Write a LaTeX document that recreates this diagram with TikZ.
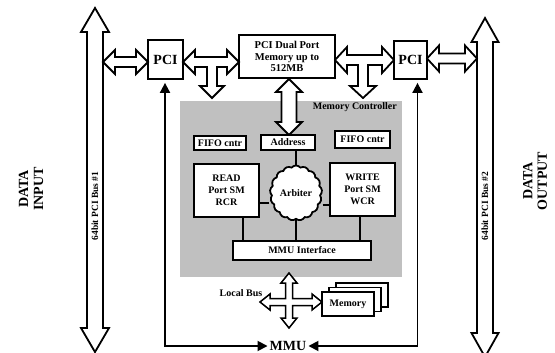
\documentclass[tikz,border=0pt]{standalone}
\usepackage{fontspec}
\setmainfont{Liberation Serif}
\usetikzlibrary{shapes.symbols,arrows.meta}

\definecolor{ctrlgray}{RGB}{192,192,192}

\tikzset{
  box/.style={draw, line width=1.8pt, fill=white, inner sep=0pt, align=center,
              font=\bfseries\fontsize{10}{12}\selectfont},
  blk/.style={draw, line width=1.8pt, fill=white, line join=miter},
  wire/.style={line width=1.8pt},
  link/.style={line width=1.8pt,
               {Triangle[length=10pt,width=10pt]}-{Triangle[length=10pt,width=10pt]}},
  lbl/.style={inner sep=0pt, font=\bfseries\fontsize{10}{12}\selectfont},
}

% vertical block arrow with heads at both ends: xc, ytop, ybot, shaft half, head half, head length
\newcommand\vdblarrow[6]{%
  \draw[blk] ({#1-#4},{#2+#6}) -- ({#1-#5},{#2+#6}) -- (#1,#2) -- ({#1+#5},{#2+#6})
    -- ({#1+#4},{#2+#6}) -- ({#1+#4},{#3-#6}) -- ({#1+#5},{#3-#6}) -- (#1,#3)
    -- ({#1-#5},{#3-#6}) -- ({#1-#4},{#3-#6}) -- cycle;}
% horizontal block arrow with heads at both ends: yc, xleft, xright, shaft half, head half, head length
\newcommand\hdblarrow[6]{%
  \draw[blk] ({#2+#6},{#1-#4}) -- ({#2+#6},{#1-#5}) -- (#2,#1) -- ({#2+#6},{#1+#5})
    -- ({#2+#6},{#1+#4}) -- ({#3-#6},{#1+#4}) -- ({#3-#6},{#1+#5}) -- (#3,#1)
    -- ({#3-#6},{#1-#5}) -- ({#3-#6},{#1-#4}) -- cycle;}
% T-shaped block arrow: yc, xleft, xright, shaft half, head half, head length, stem x, stem tip y
\newcommand\tblkarrow[8]{%
  \draw[blk] (#2,#1) -- ({#2+#6},{#1-#5}) -- ({#2+#6},{#1-#4}) -- ({#3-#6},{#1-#4})
    -- ({#3-#6},{#1-#5}) -- (#3,#1) -- ({#3-#6},{#1+#5}) -- ({#3-#6},{#1+#4})
    -- ({#7+#4},{#1+#4}) -- ({#7+#4},{#8-#6}) -- ({#7+#5},{#8-#6}) -- (#7,#8)
    -- ({#7-#5},{#8-#6}) -- ({#7-#4},{#8-#6}) -- ({#7-#4},{#1+#4})
    -- ({#2+#6},{#1+#4}) -- ({#2+#6},{#1+#5}) -- cycle;}
% four-way block arrow: cx, cy, ytop, ybot, xleft, xright, shaft half, head half, head length
\newcommand\crossblkarrow[9]{%
  \draw[blk, line width=1.5pt] (#1,#3) -- ({#1+#8},{#3+#9}) -- ({#1+#7},{#3+#9}) -- ({#1+#7},{#2-#7})
    -- ({#6-#9},{#2-#7}) -- ({#6-#9},{#2-#8}) -- (#6,#2) -- ({#6-#9},{#2+#8}) -- ({#6-#9},{#2+#7})
    -- ({#1+#7},{#2+#7}) -- ({#1+#7},{#4-#9}) -- ({#1+#8},{#4-#9}) -- (#1,#4)
    -- ({#1-#8},{#4-#9}) -- ({#1-#7},{#4-#9}) -- ({#1-#7},{#2+#7})
    -- ({#5+#9},{#2+#7}) -- ({#5+#9},{#2+#8}) -- (#5,#2) -- ({#5+#9},{#2-#8}) -- ({#5+#9},{#2-#7})
    -- ({#1-#7},{#2-#7}) -- ({#1-#7},{#3+#9}) -- ({#1-#8},{#3+#9}) -- cycle;}

\begin{document}
\begin{tikzpicture}[x=1pt, y=-1pt]
\useasboundingbox (0,0) rectangle (555,353);
\fill[white] (0,0) rectangle (555,353);

% memory controller area
\fill[ctrlgray] (180,101) rectangle (402,277);
\node[lbl, anchor=east] (mclabel) at (397,107) {Memory Controller};

% PCI buses
\vdblarrow{95}{8}{352}{8}{14}{24}
\vdblarrow{485}{18}{357}{8}{13.5}{24}
\node[rotate=90, inner sep=0pt, font=\bfseries\fontsize{9.5}{11}\selectfont] (bus1) at (95,206) {64bit PCI Bus \#1};
\node[rotate=90, inner sep=0pt, font=\bfseries\fontsize{9.5}{11}\selectfont] (bus2) at (485,206) {64bit PCI Bus \#2};

% side captions
\node[rotate=90, align=center, inner sep=0pt, font=\bfseries\fontsize{14}{15}\selectfont] (din) at (31,189) {DATA\\INPUT};
\node[rotate=90, align=center, inner sep=0pt, font=\bfseries\fontsize{14}{14.5}\selectfont] (dout) at (535,181) {DATA\\OUTPUT};

% top row
\node[box, minimum width=35pt, minimum height=39pt, font=\bfseries\fontsize{14}{16}\selectfont] (pciL) at (165.5,59.5) {PCI};
\node[box, minimum width=33pt, minimum height=38pt, font=\bfseries\fontsize{14}{16}\selectfont] (pciR) at (410.5,60) {PCI};
\node[box, minimum width=96pt, minimum height=43pt, font=\bfseries\fontsize{10.5}{11.5}\selectfont] (dual) at (287,56.5) {PCI Dual Port\\Memory up to\\512MB};

\hdblarrow{62}{103}{148}{5}{12}{12}
\hdblarrow{58.5}{427}{477}{5}{13}{12}
\tblkarrow{62}{183}{239}{5}{12}{12}{212}{98}
\tblkarrow{60}{335}{394}{5}{13}{12}{363}{98}
\vdblarrow{289}{79}{135}{7.5}{13}{13}

% controller blocks
\node[box, minimum width=52pt, minimum height=14pt] (fifoL) at (220,143) {FIFO cntr};
\node[box, minimum width=54pt, minimum height=15pt] (addr) at (288,142.5) {Address};
\node[box, minimum width=55pt, minimum height=17pt] (fifoR) at (362.5,139.5) {FIFO cntr};
\node[box, minimum width=65pt, minimum height=53pt] (read) at (226.5,190.5) {READ\\Port SM\\RCR};
\node[box, minimum width=65pt, minimum height=53pt] (write) at (362.5,189.5) {WRITE\\Port SM\\WCR};
\node[box, minimum width=138pt, minimum height=19pt] (mmui) at (302,250.5) {MMU Interface};
\node[draw, cloud, cloud puffs=17, cloud puff arc=100, aspect=1, line width=1.8pt, fill=white,
      minimum width=52pt, minimum height=55pt, inner sep=0pt,
      font=\bfseries\fontsize{10}{12}\selectfont] (arb) at (296,193) {Arbiter};

\draw[wire] (arb.north) -- (arb.north |- addr.south);
\draw[wire] ([yshift=-10pt]arb.west) -- ([yshift=-10pt]arb.west -| read.east);
\draw[wire] ([yshift=-12pt]arb.east) -- ([yshift=-12pt]arb.east -| write.west);
\draw[wire] ([xshift=16.5pt]read.south) -- ([xshift=16.5pt]read.south |- mmui.north);
\draw[wire] (arb.south) -- (arb.south |- mmui.north);
\draw[wire] ([xshift=-2.5pt]write.south) -- ([xshift=-2.5pt]write.south |- mmui.north);

% local bus and memory bank
\node[box, minimum width=52pt, minimum height=24pt] (mem3) at (362,295) {};
\node[box, minimum width=52pt, minimum height=24pt] (mem2) at (355,299.5) {};
\node[box, minimum width=52pt, minimum height=24pt] (mem) at (348,304) {Memory};
\crossblkarrow{289}{302}{273}{328}{260}{322}{3.5}{8}{10}
\node[lbl] (lbus) at (241,293) {Local Bus};

% MMU and its links to both PCI bridges
\node[inner sep=2pt, font=\bfseries\fontsize{14}{16}\selectfont] (mmu) at (288,346) {MMU};
\draw[link, shorten <=3pt] ([xshift=-0.5pt]pciL.south) |- (mmu.west);
\draw[link, shorten <=3pt] ([xshift=7pt]pciR.south) |- (mmu.east);
\end{tikzpicture}
\end{document}
